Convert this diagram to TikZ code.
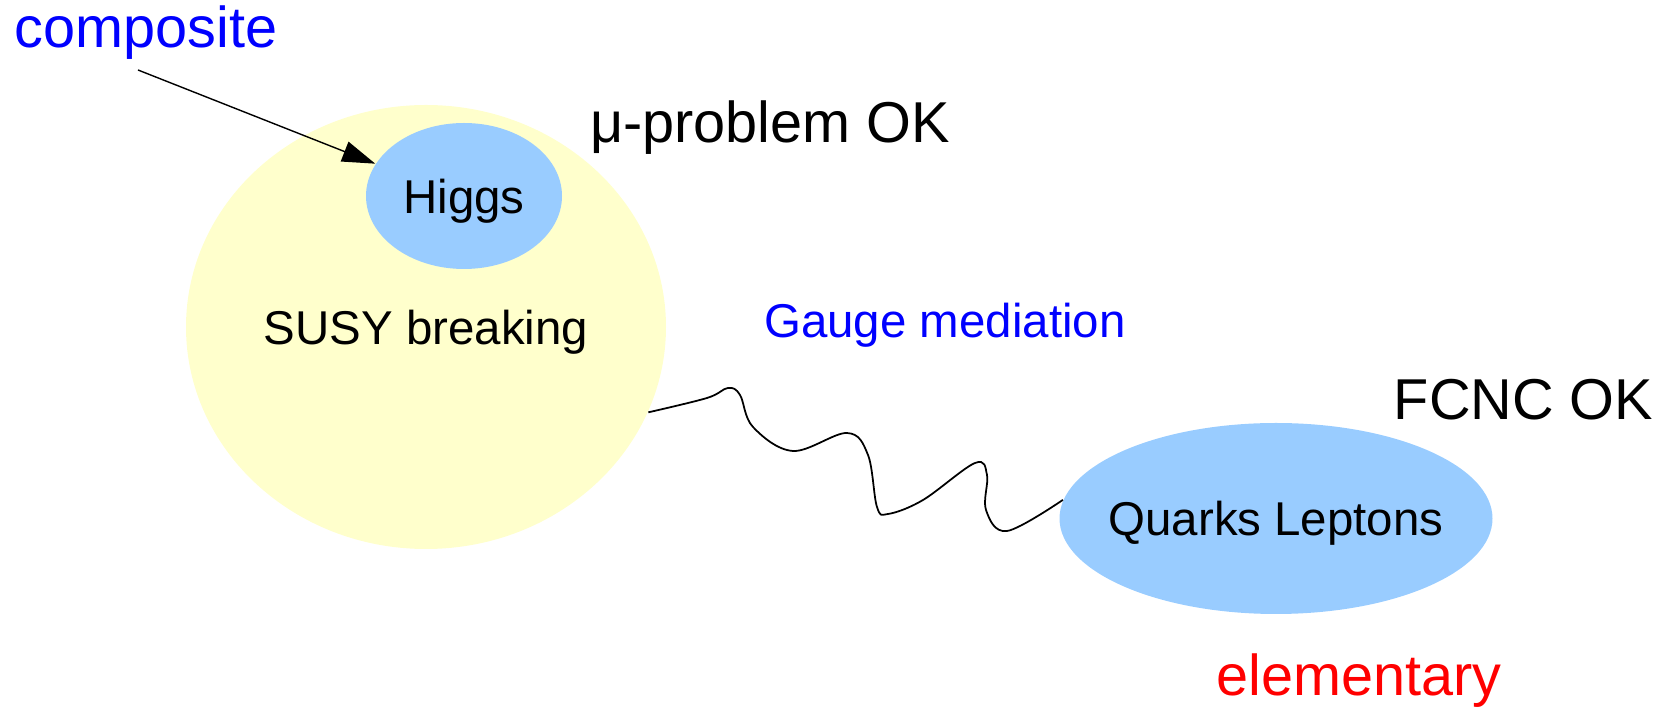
\documentclass[tikz,border=0pt]{standalone}
\usepackage{fontspec}
\setmainfont{Liberation Sans}
\usepackage{tikz}
\usetikzlibrary{shapes.geometric,arrows.meta}
\definecolor{paleyellow}{RGB}{255,255,204}
\definecolor{skyblue}{RGB}{153,204,255}
\definecolor{labelblue}{RGB}{0,0,255}
\definecolor{labelred}{RGB}{255,0,0}
\tikzset{%
    blob/.style={%
        ellipse, draw=none, inner sep=0pt
    },
    blobtext/.style={%
        inner sep=0pt, text depth=0pt,
        font=\fontsize{13.5}{16}\selectfont
    },
    bigtext/.style={%
        anchor=base, inner sep=0pt,
        font=\fontsize{16.4}{19}\selectfont
    }
}

\begin{document}
\begin{tikzpicture}
    \useasboundingbox (0,0) rectangle (16.65,-7.08);
    \node[blob, fill=paleyellow, minimum width=4.80cm, minimum height=4.44cm,
        label={[blobtext]center:SUSY breaking}] (susy) at (4.26,-3.27) {};
    \node[blob, fill=skyblue, minimum width=1.96cm, minimum height=1.46cm,
        label={[blobtext]center:Higgs}] (higgs) at (4.64,-1.96) {};
    \node[blob, fill=skyblue, minimum width=4.33cm, minimum height=1.91cm,
        label={[blobtext]center:Quarks Leptons}] (quarks) at (12.76,-5.185) {};
    \node[bigtext, color=labelblue] (composite) at (1.46,-0.48) {composite};
    \node[bigtext] (mu) at (7.70,-1.43) {μ-problem OK};
    \node[bigtext, color=labelblue, font=\fontsize{13.5}{16}\selectfont] (gauge) at (9.45,-3.38) {Gauge mediation};
    \node[bigtext] (fcnc) at (15.235,-4.20) {FCNC OK};
    \node[bigtext, color=labelred] (elementary) at (13.59,-6.96) {elementary};
    \coordinate (tail) at (1.38,-0.70);
    \draw[-{Triangle[length=3.3mm,width=2.1mm]}, line width=0.4pt] (tail) -- (higgs.160);
    % the wavy mediator
    \draw[line width=0.5pt] plot[smooth, tension=0.6] coordinates {
        (susy.-21) (7.07,-3.98) (7.28,-3.88) (7.40,-3.95) (7.53,-4.27)
        (7.93,-4.51) (8.47,-4.33) (8.68,-4.55) (8.77,-5.07) (8.88,-5.14)
        (9.23,-5.00) (9.75,-4.63) (9.87,-4.75) (9.86,-5.10) (10.07,-5.31)
        (quarks.175)};
\end{tikzpicture}
\end{document}
